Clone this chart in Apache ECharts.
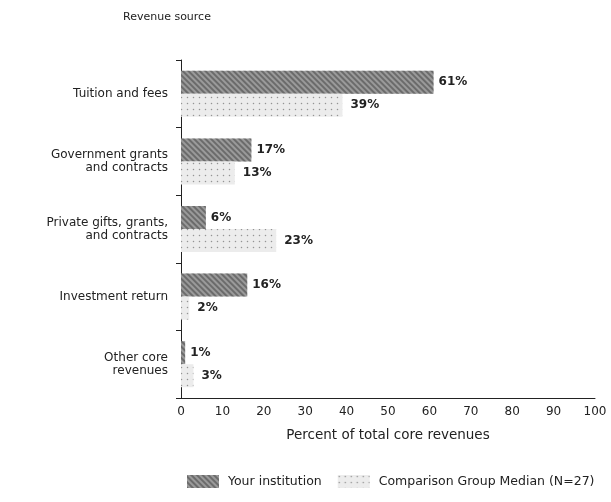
<!DOCTYPE html>
<html>
<head>
<meta charset="utf-8">
<script src="https://cdn.jsdelivr.net/npm/echarts@6/dist/echarts.min.js"></script>
<style>
  html, body { margin: 0; padding: 0; background: #fff; }
  #chart { width: 611px; height: 502px; }
</style>
</head>
<body>
<div id="chart"></div>
<script>
// revenue sources, top to bottom
var categories = ['Tuition and fees', 'Government grants\nand contracts', 'Private gifts, grants,\nand contracts', 'Investment return', 'Other core\nrevenues'];
var yourInstitution = [61, 17, 6, 16, 1];
var comparisonMedian = [39, 13, 23, 2, 3];
var seriesNames = ['Your institution', 'Comparison Group Median (N=27)'];

var font = 'DejaVu Sans';
var chart = echarts.init(document.getElementById('chart'));

chart.setOption({
	animation: false,
	aria: { enabled: true, decal: { show: true } },
	title: {
		text: 'Revenue source',
		left: 118,
		top: 7,
		textStyle: { fontFamily: font, fontSize: 11, fontWeight: 'normal', color: '#222' }
	},
	legend: {
		data: seriesNames,
		left: 182,
		bottom: 9,
		icon: 'rect',
		itemWidth: 32,
		itemHeight: 13,
		itemGap: 16,
		textStyle: { fontFamily: font, fontSize: 12.5, color: '#222', padding: [0, 0, 0, 4] }
	},
	grid: { left: 181, right: 16, top: 60, bottom: 104 },
	xAxis: {
		type: 'value',
		min: 0,
		max: 100,
		interval: 10,
		name: 'Percent of total core revenues',
		nameLocation: 'middle',
		nameGap: 30,
		nameTextStyle: { fontFamily: font, fontSize: 13.5, color: '#222' },
		axisLine: { show: true, lineStyle: { color: '#222' } },
		axisTick: { show: false },
		splitLine: { show: false },
		axisLabel: { fontFamily: font, fontSize: 12, color: '#222', margin: 8 }
	},
	yAxis: {
		type: 'category',
		data: categories,
		inverse: true,
		axisLine: { show: true, lineStyle: { color: '#222' } },
		axisTick: { show: true, length: 5, lineStyle: { color: '#222' } },
		axisLabel: { fontFamily: font, fontSize: 12, color: '#222', margin: 13, align: 'right', lineHeight: 13 }
	},
	series: [
		{
			name: seriesNames[0],
			type: 'bar',
			data: yourInstitution,
			barWidth: 23,
			barGap: '0%',
			itemStyle: {
				color: '#9a9a9a',
				decal: { symbol: 'rect', dashArrayX: [1, 0], dashArrayY: [2, 2], rotation: Math.PI / 4, color: 'rgba(70,70,70,0.55)' }
			},
			label: {
				show: true, position: 'right', distance: 5, formatter: '{c}%',
				fontFamily: font, fontSize: 12, fontWeight: 'bold', color: '#222'
			}
		},
		{
			name: seriesNames[1],
			type: 'bar',
			data: comparisonMedian,
			barWidth: 23,
			itemStyle: {
				color: '#ececec',
				decal: { symbol: 'circle', symbolSize: 0.5, dashArrayX: [[3, 3]], dashArrayY: [3, 3], color: 'rgba(90,90,90,0.6)' }
			},
			label: {
				show: true, position: 'right', distance: 8, formatter: '{c}%',
				fontFamily: font, fontSize: 12, fontWeight: 'bold', color: '#222'
			}
		}
	]
});
</script>
</body>
</html>
